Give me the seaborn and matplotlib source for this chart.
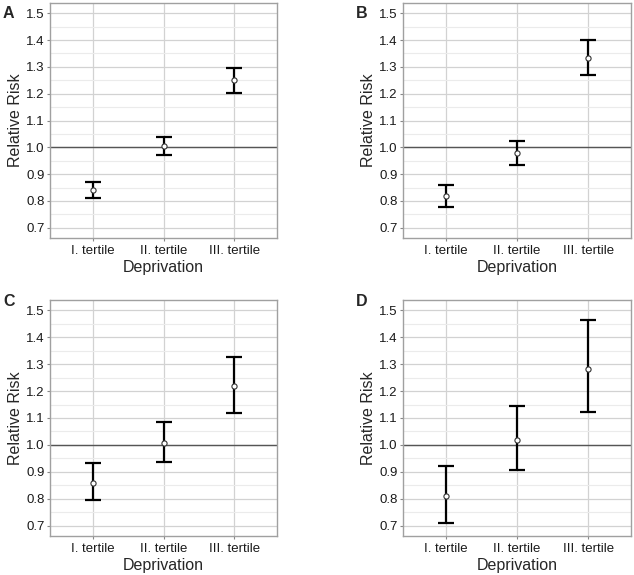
import numpy as np
import pandas as pd
import seaborn as sns
import matplotlib.pyplot as plt
from matplotlib.ticker import MultipleLocator

# Data
tertiles = ['I. tertile', 'II. tertile', 'III. tertile']
panels = ['A', 'B', 'C', 'D']

rr_A = [0.841, 1.006, 1.250]
lo_A = [0.812, 0.972, 1.202]
hi_A = [0.872, 1.037, 1.297]

rr_B = [0.817, 0.977, 1.333]
lo_B = [0.776, 0.933, 1.268]
hi_B = [0.859, 1.022, 1.401]

rr_C = [0.859, 1.007, 1.218]
lo_C = [0.794, 0.935, 1.117]
hi_C = [0.932, 1.084, 1.327]

rr_D = [0.811, 1.018, 1.281]
lo_D = [0.711, 0.907, 1.122]
hi_D = [0.922, 1.143, 1.463]

yticks = [0.7, 0.8, 0.9, 1.0, 1.1, 1.2, 1.3, 1.4, 1.5]

sns.set_theme(style='white')
plt.rcParams['font.family'] = ['Liberation Sans', 'DejaVu Sans']

fig = plt.figure(figsize=(6.34, 5.75), dpi=100)

W, H = 634, 575
# axes boxes in pixels: left, top, right, bottom
boxes = {
    'A': (50, 3, 277, 238),
    'B': (403, 3, 631, 238),
    'C': (50, 300, 277, 536),
    'D': (403, 300, 631, 536),
}
# panel tag centre (pixels from top)
tag_y = {'A': 14, 'B': 14, 'C': 301, 'D': 301}

series = {
    'A': (rr_A, lo_A, hi_A),
    'B': (rr_B, lo_B, hi_B),
    'C': (rr_C, lo_C, hi_C),
    'D': (rr_D, lo_D, hi_D),
}

for p in panels:
    l, t, r, b = boxes[p]
    ax = fig.add_axes([l / W, 1 - b / H, (r - l) / W, (b - t) / H])
    rr, lo, hi = series[p]
    df = pd.DataFrame({'tertile': tertiles, 'rr': rr, 'lo': lo, 'hi': hi})
    x = np.arange(len(tertiles))

    # grid
    ax.yaxis.set_minor_locator(MultipleLocator(0.05))
    ax.grid(True, which='minor', axis='y', color='#ebebeb', linewidth=0.8, zorder=0)
    ax.grid(True, which='major', axis='both', color='#d2d2d2', linewidth=0.9, zorder=0)
    ax.set_axisbelow(True)

    ax.axhline(1.0, color='#555555', linewidth=1.0, zorder=1)

    ax.errorbar(x, df['rr'], yerr=[df['rr'] - df['lo'], df['hi'] - df['rr']],
                fmt='none', ecolor='black', elinewidth=1.6, capsize=6, capthick=1.6, zorder=2)
    sns.scatterplot(data=df, x='tertile', y='rr', ax=ax, s=14, color='white',
                    edgecolor='#333333', linewidth=0.8, zorder=3, legend=False)

    ax.set_xlim(-0.6, 2.6)
    ax.set_ylim(0.662, 1.538)
    ax.set_xticks(x)
    ax.set_xticklabels(tertiles)
    ax.set_yticks(yticks)
    ax.set_yticklabels([f'{v:.1f}' for v in yticks])
    ax.tick_params(axis='both', which='major', labelsize=9.5, length=2.5, width=0.8,
                   color='#888888', labelcolor='#1a1a1a', pad=1.5, bottom=True, left=True)
    ax.tick_params(axis='x', which='major', pad=2.5)
    ax.tick_params(axis='y', which='minor', length=0)

    for s in ax.spines.values():
        s.set_color('#a0a0a0')
        s.set_linewidth(1.0)

    ax.set_xlabel('Deprivation', fontsize=11.5, labelpad=2)
    ax.set_ylabel('Relative Risk', fontsize=11.5, labelpad=2)

    fig.text((l - 47) / W, 1 - tag_y[p] / H, p, fontsize=11.5, fontweight='bold',
             ha='left', va='center')

fig.savefig('out.png', dpi=100)
